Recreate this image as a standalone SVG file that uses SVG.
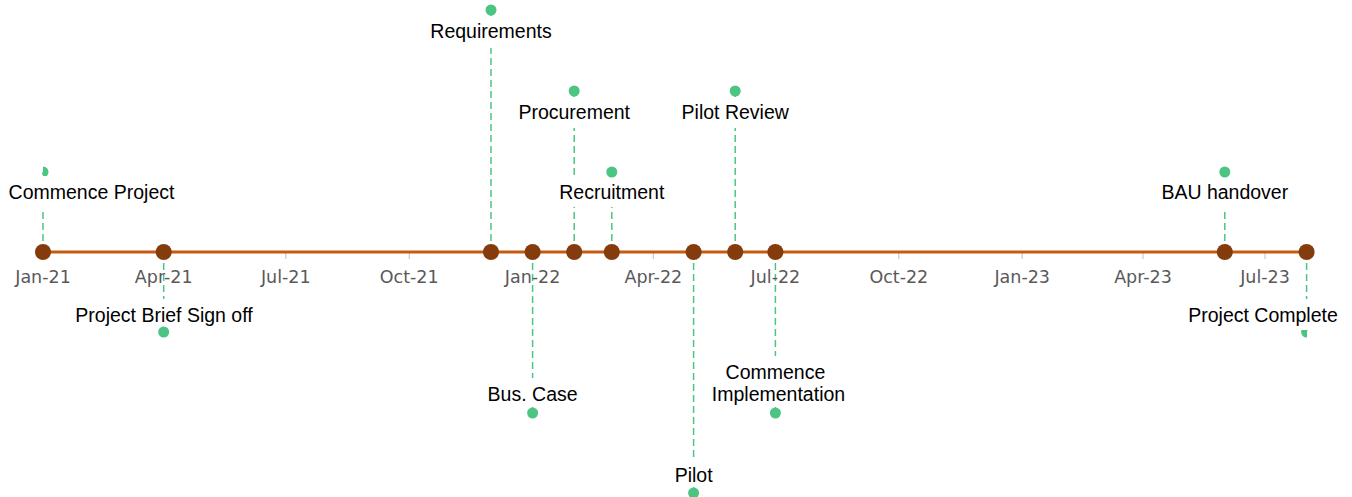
<svg xmlns="http://www.w3.org/2000/svg" width="1352" height="497" viewBox="0 0 1352 497">
  <style>
    .stem { stroke: #4cc583; stroke-width: 1.5; stroke-dasharray: 7 4; fill: none; }
    .dot { fill: #4cc583; }
    .box { fill: #ffffff; }
    .lbl { font-family: "Liberation Sans", Arial, sans-serif; font-size: 19.5px; fill: #000000; text-anchor: middle; }
    .axis-lbl { font-family: "DejaVu Sans", "Century Gothic", sans-serif; font-size: 17.5px; fill: #595959; text-anchor: middle; }
    .tick { stroke: #bfbfbf; stroke-width: 1; }
    .axis { stroke: #c55a11; stroke-width: 3; }
    .marker { fill: #843c0c; }
  </style>
  <defs>
    <clipPath id="plot">
      <rect x="43" y="0" width="1264" height="497"/>
    </clipPath>
  </defs>
  <rect width="1352" height="497" fill="#ffffff"/>

  <!-- dashed stems from each milestone to its label dot -->
  <g id="connectors">
    <line class="stem" x1="43" y1="252" x2="43" y2="172"/>
    <line class="stem" x1="163.7" y1="252" x2="163.7" y2="332"/>
    <line class="stem" x1="491" y1="252" x2="491" y2="10"/>
    <line class="stem" x1="532.6" y1="252" x2="532.6" y2="413"/>
    <line class="stem" x1="574.2" y1="252" x2="574.2" y2="91"/>
    <line class="stem" x1="611.8" y1="252" x2="611.8" y2="172"/>
    <line class="stem" x1="693.6" y1="252" x2="693.6" y2="493"/>
    <line class="stem" x1="735.2" y1="252" x2="735.2" y2="91"/>
    <line class="stem" x1="775.4" y1="252" x2="775.4" y2="413"/>
    <line class="stem" x1="1224.8" y1="252" x2="1224.8" y2="172"/>
    <line class="stem" x1="1306.6" y1="252" x2="1306.6" y2="332"/>
  </g>

  <!-- milestone labels with their dots -->
  <g clip-path="url(#plot)">
    <circle class="dot" cx="43" cy="172" r="5.5"/>
    <circle class="dot" cx="1306.6" cy="332" r="5.5"/>
  </g>
  <g id="commence-project">
    <rect class="box" x="4" y="176" width="175" height="33"/>
    <text class="lbl" x="91.5" y="199">Commence Project</text>
  </g>
  <g id="project-brief">
    <rect class="box" x="68" y="299" width="192" height="32"/>
    <circle class="dot" cx="163.7" cy="332" r="5.5"/>
    <text class="lbl" x="164" y="322">Project Brief Sign off</text>
  </g>
  <g id="requirements">
    <rect class="box" x="426" y="16" width="130" height="32"/>
    <circle class="dot" cx="491" cy="10" r="5.5"/>
    <text class="lbl" x="491" y="38">Requirements</text>
  </g>
  <g id="bus-case">
    <rect class="box" x="482" y="378" width="102" height="29"/>
    <circle class="dot" cx="532.6" cy="413" r="5.5"/>
    <text class="lbl" x="532.6" y="401">Bus. Case</text>
  </g>
  <g id="procurement">
    <rect class="box" x="513" y="97" width="122" height="31"/>
    <circle class="dot" cx="574.2" cy="91" r="5.5"/>
    <text class="lbl" x="574.2" y="119">Procurement</text>
  </g>
  <g id="recruitment">
    <rect class="box" x="554" y="177" width="116" height="30"/>
    <circle class="dot" cx="611.8" cy="172" r="5.5"/>
    <text class="lbl" x="611.8" y="199">Recruitment</text>
  </g>
  <g id="pilot">
    <rect class="box" x="668" y="458" width="52" height="29"/>
    <circle class="dot" cx="693.6" cy="493" r="5.5"/>
    <text class="lbl" x="693.6" y="482">Pilot</text>
  </g>
  <g id="pilot-review">
    <rect class="box" x="676" y="97" width="120" height="31"/>
    <circle class="dot" cx="735.2" cy="91" r="5.5"/>
    <text class="lbl" x="735.2" y="119">Pilot Review</text>
  </g>
  <g id="commence-implementation">
    <rect class="box" x="712" y="356" width="134" height="51"/>
    <circle class="dot" cx="775.4" cy="413" r="5.5"/>
    <text class="lbl" x="775.4" y="379">Commence</text>
    <text class="lbl" x="778.5" y="401">Implementation</text>
  </g>
  <g id="bau-handover">
    <rect class="box" x="1156" y="177" width="138" height="31"/>
    <circle class="dot" cx="1224.8" cy="172" r="5.5"/>
    <text class="lbl" x="1224.8" y="199">BAU handover</text>
  </g>
  <g id="project-complete">
    <rect class="box" x="1183" y="299" width="160" height="31"/>
    <text class="lbl" x="1263" y="322">Project Complete</text>
  </g>

  <!-- date axis -->
  <g id="axis">
    <g>
      <line class="tick" x1="43" y1="253" x2="43" y2="259"/>
      <line class="tick" x1="163.7" y1="253" x2="163.7" y2="259"/>
      <line class="tick" x1="285.8" y1="253" x2="285.8" y2="259"/>
      <line class="tick" x1="409.2" y1="253" x2="409.2" y2="259"/>
      <line class="tick" x1="532.6" y1="253" x2="532.6" y2="259"/>
      <line class="tick" x1="653.3" y1="253" x2="653.3" y2="259"/>
      <line class="tick" x1="775.4" y1="253" x2="775.4" y2="259"/>
      <line class="tick" x1="898.8" y1="253" x2="898.8" y2="259"/>
      <line class="tick" x1="1022.2" y1="253" x2="1022.2" y2="259"/>
      <line class="tick" x1="1143" y1="253" x2="1143" y2="259"/>
      <line class="tick" x1="1265" y1="253" x2="1265" y2="259"/>
    </g>
    <line class="axis" x1="43" y1="252" x2="1307" y2="252"/>
    <text class="axis-lbl" x="43" y="283">Jan-21</text>
    <text class="axis-lbl" x="163.7" y="283">Apr-21</text>
    <text class="axis-lbl" x="285.8" y="283">Jul-21</text>
    <text class="axis-lbl" x="409.2" y="283">Oct-21</text>
    <text class="axis-lbl" x="532.6" y="283">Jan-22</text>
    <text class="axis-lbl" x="653.3" y="283">Apr-22</text>
    <text class="axis-lbl" x="775.4" y="283">Jul-22</text>
    <text class="axis-lbl" x="898.8" y="283">Oct-22</text>
    <text class="axis-lbl" x="1022.2" y="283">Jan-23</text>
    <text class="axis-lbl" x="1143" y="283">Apr-23</text>
    <text class="axis-lbl" x="1265" y="283">Jul-23</text>
  </g>

  <!-- milestone markers on the axis -->
  <g id="markers">
    <circle class="marker" cx="43" cy="252" r="8"/>
    <circle class="marker" cx="163.7" cy="252" r="8"/>
    <circle class="marker" cx="491" cy="252" r="8"/>
    <circle class="marker" cx="532.6" cy="252" r="8"/>
    <circle class="marker" cx="574.2" cy="252" r="8"/>
    <circle class="marker" cx="611.8" cy="252" r="8"/>
    <circle class="marker" cx="693.6" cy="252" r="8"/>
    <circle class="marker" cx="735.2" cy="252" r="8"/>
    <circle class="marker" cx="775.4" cy="252" r="8"/>
    <circle class="marker" cx="1224.8" cy="252" r="8"/>
    <circle class="marker" cx="1306.6" cy="252" r="8"/>
  </g>
</svg>
